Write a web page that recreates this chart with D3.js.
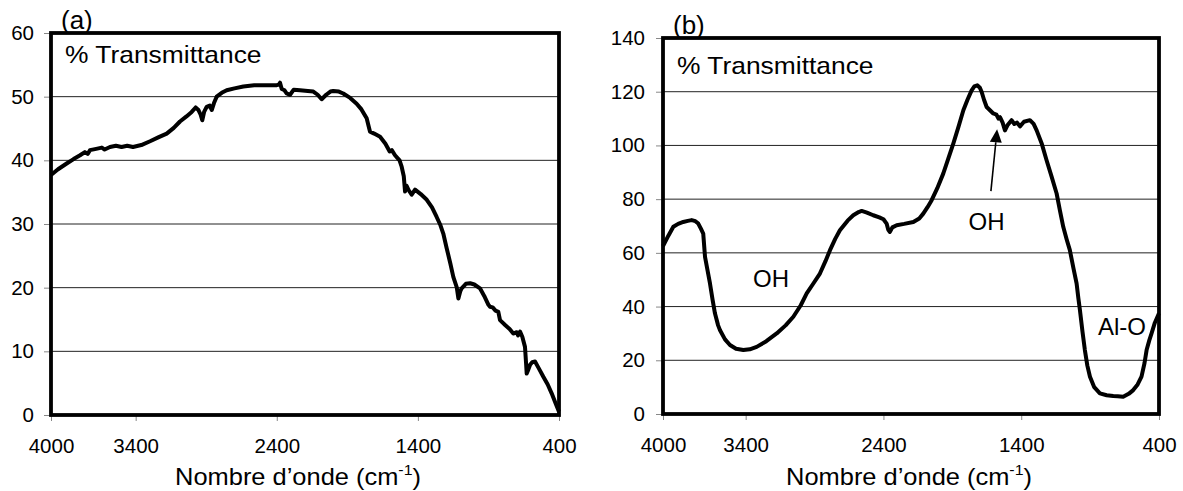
<!DOCTYPE html>
<html>
<head>
<meta charset="utf-8">
<script src="https://cdn.jsdelivr.net/npm/d3@7"></script>
<style>
  body { margin: 0; background: #fff; }
  text { font-family: "Liberation Sans", Arial, sans-serif; fill: #000; }
</style>
</head>
<body>
<div id="ir-chart"></div>
<script>
// x ticks shared by both panels
const xTicks = [4000, 3400, 2400, 1400, 400];

// panel (a) : wavenumber (cm-1) / transmittance
const waveA = [4000, 3950, 3889, 3840, 3794, 3760, 3740, 3724, 3680, 3640, 3620, 3582, 3540, 3500, 3460, 3419, 3360, 3298, 3240, 3180,
  3130, 3086, 3040, 3003, 2975, 2955, 2940, 2928, 2915, 2897, 2875, 2861, 2845, 2826, 2790, 2755, 2700, 2637, 2560, 2480,
  2400, 2385, 2377, 2365, 2345, 2330, 2306, 2280, 2235, 2180, 2141, 2110, 2082, 2050, 2020, 2000, 1960, 1929, 1880, 1834,
  1800, 1763, 1745, 1739, 1710, 1668, 1630, 1600, 1585, 1562, 1530, 1515, 1500, 1491, 1480, 1465, 1444, 1420, 1380, 1337,
  1300, 1267, 1240, 1220, 1196, 1170, 1149, 1125, 1113, 1100, 1090, 1060, 1030, 1000, 960, 930, 900, 889, 870, 850,
  830, 818, 780, 750, 724, 700, 690, 676, 660, 641, 633, 629, 620, 605, 590, 570, 545, 511, 480, 452, 425, 400];
const transA = [37.7, 38.6, 39.5, 40.2, 40.8, 41.3, 41.0, 41.6, 41.8, 42.0, 41.7, 42.1, 42.3, 42.1, 42.3, 42.1, 42.4, 43.0, 43.6, 44.2,
  45.1, 46.1, 46.9, 47.6, 48.3, 47.9, 47.2, 46.3, 47.6, 48.4, 48.6, 47.9, 49.0, 50.0, 50.6, 51.0, 51.3, 51.6, 51.8, 51.8,
  51.8, 51.9, 52.2, 51.2, 51.0, 50.5, 50.3, 51.1, 51.0, 50.9, 50.8, 50.3, 49.6, 50.3, 50.8, 50.9, 50.8, 50.5, 49.8, 48.9,
  48.0, 46.6, 45.0, 44.5, 44.2, 43.7, 42.6, 41.4, 41.6, 40.8, 40.0, 39.0, 37.5, 35.1, 36.0, 35.3, 34.6, 35.4, 34.7, 33.8,
  32.6, 31.1, 29.8, 28.5, 26.2, 23.8, 21.7, 20.1, 18.3, 19.4, 19.9, 20.6, 20.7, 20.5, 19.9, 18.7, 17.3, 17.0, 16.9, 16.4,
  16.2, 14.9, 14.1, 13.5, 12.8, 13.0, 12.5, 13.1, 12.3, 10.7, 8.0, 6.5, 7.0, 7.9, 8.3, 8.4, 7.4, 6.0, 4.8, 3.4, 1.9, 0.5];
const yTicksA = [0, 10, 20, 30, 40, 50, 60];

// panel (b)
const waveB = [4000, 3960, 3925, 3890, 3853, 3820, 3792, 3765, 3744, 3725, 3708, 3695, 3675, 3659, 3640, 3623, 3600, 3586, 3550, 3514,
  3470, 3417, 3370, 3320, 3250, 3175, 3110, 3054, 3000, 2957, 2910, 2861, 2820, 2788, 2750, 2716, 2660, 2619, 2580, 2558,
  2520, 2474, 2430, 2400, 2377, 2365, 2353, 2335, 2304, 2250, 2183, 2140, 2111, 2080, 2050, 2010, 1966, 1930, 1893, 1855,
  1820, 1790, 1760, 1740, 1719, 1700, 1687, 1670, 1651, 1625, 1603, 1580, 1565, 1554, 1535, 1518, 1500, 1470, 1450, 1430,
  1409, 1380, 1337, 1310, 1288, 1250, 1216, 1180, 1143, 1120, 1095, 1070, 1047, 1020, 998, 985, 974, 955, 938, 920,
  901, 870, 829, 780, 732, 700, 660, 620, 587, 555, 527, 505, 490, 470, 454, 430, 400];
const transB = [62.5, 66.5, 69.7, 70.8, 71.5, 71.9, 72.2, 71.8, 70.9, 69.0, 67.2, 58.5, 53.0, 48.6, 42.5, 37.5, 33.0, 31.2, 27.8, 25.7,
  24.3, 23.8, 24.1, 25.0, 27.1, 30.0, 33.0, 36.2, 40.5, 44.9, 48.5, 52.3, 57.0, 61.0, 65.2, 68.4, 72.0, 74.0, 75.2, 75.6,
  75.0, 74.0, 73.2, 72.5, 70.9, 68.6, 67.8, 69.5, 70.3, 70.8, 71.5, 72.8, 74.6, 77.0, 79.6, 84.0, 89.5, 95.0, 100.7, 107.0,
  113.1, 117.0, 120.5, 122.0, 122.4, 121.5, 119.9, 117.0, 114.3, 113.0, 111.9, 111.5, 110.0, 110.5, 108.5, 105.6, 107.5, 109.4, 108.0, 108.5,
  107.1, 108.8, 109.4, 108.0, 105.6, 100.5, 94.5, 88.5, 82.1, 76.0, 69.7, 65.0, 61.0, 54.0, 48.6, 43.0, 38.7, 30.5, 23.8, 18.0,
  13.9, 10.0, 7.7, 7.0, 6.7, 6.6, 6.4, 7.5, 8.9, 11.0, 13.9, 19.0, 23.8, 27.5, 30.0, 34.0, 37.5];
const yTicksB = [0, 20, 40, 60, 80, 100, 120, 140];

// annotations of panel (b) : [label, wavenumber, transmittance]
const labelsB = [["OH", 3216, 47.3], ["OH", 1652, 68.5], ["Al-O", 669, 29.4]];
const arrowB = {from: [1620, 83], to: [1575, 106]};

const wrapper = d3.select('#ir-chart')
.append('svg')
.attr('width', 1183)
.attr('height', 491)

function drawPanel(cfg){
  const g = wrapper.append('g')

  const xScale = d3.scaleLinear()
  .domain([4000, 400])
  .range([cfg.left, cfg.right])

  const yScale = d3.scaleLinear()
  .domain([0, cfg.yMax])
  .range([cfg.bottom, cfg.top])

  //// gridlines
  g.selectAll('line.grid')
  .data(cfg.yTicks.slice(1, -1))
  .join('line')
  .attr('class', 'grid')
  .attr('x1', cfg.left)
  .attr('x2', cfg.right)
  .attr('y1', d => yScale(d))
  .attr('y2', d => yScale(d))
  .attr('stroke', '#222')
  .attr('stroke-width', 1)

  //// axes
  const xAxis = g.append('g')
  .attr('transform', `translate(0,${cfg.bottom})`)
  .call(d3.axisBottom(xScale).tickValues(xTicks).tickFormat(d3.format('d')).tickSize(6).tickPadding(17))
  xAxis.select('.domain').remove()
  xAxis.selectAll('line').attr('stroke', '#888')
  xAxis.selectAll('text').style('font-size', '20.5px').attr('font-family', null)

  const yAxis = g.append('g')
  .attr('transform', `translate(${cfg.left},0)`)
  .call(d3.axisLeft(yScale).tickValues(cfg.yTicks).tickSize(7).tickPadding(cfg.yPad))
  yAxis.select('.domain').remove()
  yAxis.selectAll('line').attr('stroke', '#888')
  yAxis.selectAll('text').style('font-size', '20.5px').attr('font-family', null)

  //// curve
  const pts = cfg.wave.map((w, i) => [w, cfg.trans[i]])
  g.append('path')
  .datum(pts)
  .attr('d', d3.line().x(d => xScale(d[0])).y(d => yScale(d[1])))
  .attr('fill', 'none')
  .attr('stroke', '#000')
  .attr('stroke-width', 4)
  .attr('stroke-linejoin', 'round')

  //// frame
  g.append('rect')
  .attr('x', cfg.left)
  .attr('y', cfg.top)
  .attr('width', cfg.right - cfg.left)
  .attr('height', cfg.bottom - cfg.top)
  .attr('fill', 'none')
  .attr('stroke', '#000')
  .attr('stroke-width', 3.8)

  //// labels
  g.append('text')
  .attr('x', cfg.left + 10)
  .attr('y', cfg.top - 4)
  .style('font-size', '26px')
  .text(cfg.tag)

  g.append('text')
  .attr('transform', `translate(${cfg.left + 14},${cfg.top + cfg.transDy}) scale(1.1,1)`)
  .style('font-size', '24px')
  .text('% Transmittance')

  const title = g.append('text')
  .attr('transform', `translate(${cfg.titleX},485) scale(1.06,1)`)
  .attr('text-anchor', 'middle')
  .style('font-size', '24px')
  title.append('tspan').text('Nombre d’onde (cm')
  title.append('tspan').attr('dy', -10).style('font-size', '15px').text('-1')
  title.append('tspan').attr('dy', 10).text(')')

  return {g, xScale, yScale}
}

drawPanel({tag: '(a)', left: 51, right: 559, top: 33, bottom: 415, yMax: 60, yTicks: yTicksA,
  wave: waveA, trans: transA, yPad: 10, transDy: 30, titleX: 298})

const pb = drawPanel({tag: '(b)', left: 663, right: 1159, top: 38, bottom: 414, yMax: 140, yTicks: yTicksB,
  wave: waveB, trans: transB, yPad: 11, transDy: 36, titleX: 909})

//// annotations (b)
pb.g.selectAll('text.note')
.data(labelsB)
.join('text')
.attr('class', 'note')
.attr('x', d => pb.xScale(d[1]))
.attr('y', d => pb.yScale(d[2]))
.attr('text-anchor', 'middle')
.style('font-size', '24px')
.text(d => d[0])

const ax1 = pb.xScale(arrowB.from[0]), ay1 = pb.yScale(arrowB.from[1])
const ax2 = pb.xScale(arrowB.to[0]), ay2 = pb.yScale(arrowB.to[1])
const ang = Math.atan2(ay2 - ay1, ax2 - ax1)
const headLen = 13, headW = 6
const bx = ax2 - headLen * Math.cos(ang), by = ay2 - headLen * Math.sin(ang)
pb.g.append('line')
.attr('x1', ax1).attr('y1', ay1)
.attr('x2', bx).attr('y2', by)
.attr('stroke', '#000')
.attr('stroke-width', 1.6)
pb.g.append('path')
.attr('d', `M${ax2},${ay2}L${bx - headW * Math.sin(ang)},${by + headW * Math.cos(ang)}L${bx + headW * Math.sin(ang)},${by - headW * Math.cos(ang)}Z`)
.attr('fill', '#000')
</script>
</body>
</html>
